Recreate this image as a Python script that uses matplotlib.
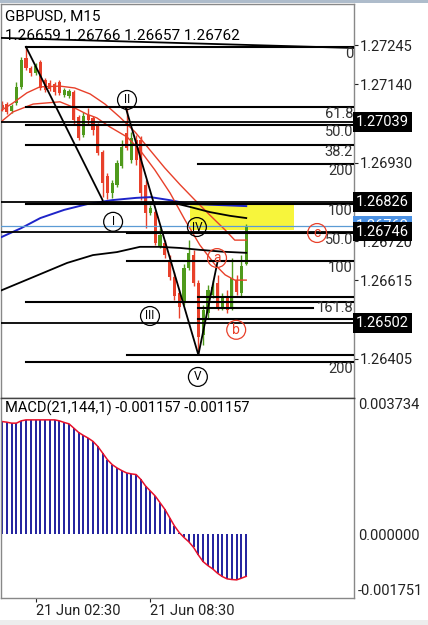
import matplotlib
matplotlib.use("Agg")
import matplotlib.pyplot as plt
import matplotlib.transforms as mtransforms
from matplotlib.patches import Rectangle

plt.rcParams["font.family"] = ["Roboto", "DejaVu Sans"]

# ---- data (GBPUSD M15, 52 bars, index 0 = 21 Jun 00:45) ----
bar_idx = list(range(52))
opens = [1.27085, 1.27087, 1.27068, 1.27090, 1.27133, 1.27210, 1.27183, 1.27170, 1.27200, 1.27151,
         1.27143, 1.27141, 1.27146, 1.27111, 1.27109, 1.27119, 1.27052, 1.27004, 1.27058, 1.27050,
         1.27031, 1.26959, 1.26895, 1.26849, 1.26871, 1.26921, 1.27010, 1.26937, 1.26991, 1.26991,
         1.26871, 1.26796, 1.26798, 1.26707, 1.26715, 1.26670, 1.26624, 1.26582, 1.26557, 1.26648,
         1.26683, 1.26608, 1.26469, 1.26528, 1.26576, 1.26608, 1.26544, 1.26571, 1.26544, 1.26616,
         1.26582, 1.26659]
highs = [1.27095, 1.27093, 1.27087, 1.27146, 1.27213, 1.27240, 1.27189, 1.27197, 1.27205, 1.27157,
         1.27151, 1.27146, 1.27151, 1.27130, 1.27127, 1.27125, 1.27058, 1.27066, 1.27077, 1.27055,
         1.27036, 1.26964, 1.26903, 1.26884, 1.26937, 1.26991, 1.27077, 1.27012, 1.27004, 1.27002,
         1.26884, 1.26817, 1.26804, 1.26755, 1.26723, 1.26683, 1.26638, 1.26590, 1.26659, 1.26723,
         1.26697, 1.26616, 1.26550, 1.26603, 1.26616, 1.26630, 1.26582, 1.26590, 1.26675, 1.26630,
         1.26683, 1.26766]
lows = [1.27068, 1.27060, 1.27063, 1.27085, 1.27127, 1.27178, 1.27162, 1.27165, 1.27125, 1.27119,
        1.27122, 1.27111, 1.27111, 1.27106, 1.27103, 1.27031, 1.26991, 1.26999, 1.27031, 1.27004,
        1.26951, 1.26838, 1.26833, 1.26836, 1.26865, 1.26916, 1.26964, 1.26929, 1.26924, 1.26830,
        1.26755, 1.26790, 1.26710, 1.26702, 1.26675, 1.26616, 1.26563, 1.26515, 1.26550, 1.26643,
        1.26600, 1.26418, 1.26443, 1.26515, 1.26568, 1.26536, 1.26536, 1.26528, 1.26536, 1.26576,
        1.26574, 1.26657]
closes = [1.27077, 1.27066, 1.27082, 1.27133, 1.27205, 1.27183, 1.27170, 1.27189, 1.27130, 1.27125,
          1.27127, 1.27119, 1.27117, 1.27125, 1.27122, 1.27044, 1.26996, 1.27055, 1.27044, 1.27018,
          1.26956, 1.26876, 1.26849, 1.26876, 1.26929, 1.26972, 1.26970, 1.26996, 1.26937, 1.26849,
          1.26796, 1.26809, 1.26715, 1.26737, 1.26683, 1.26624, 1.26574, 1.26544, 1.26648, 1.26689,
          1.26608, 1.26464, 1.26536, 1.26590, 1.26598, 1.26544, 1.26571, 1.26536, 1.26622, 1.26584,
          1.26654, 1.26762]

macd = [0.003089, 0.003071, 0.003044, 0.003044, 0.003107, 0.003134, 0.003134, 0.003134, 0.003134, 0.003134,
        0.003134, 0.003134, 0.003107, 0.003062, 0.003025, 0.002907, 0.002789, 0.002707, 0.002634, 0.002544,
        0.002407, 0.002226, 0.002044, 0.001908, 0.001817, 0.001744, 0.001680, 0.001653, 0.001635, 0.001499,
        0.001317, 0.001181, 0.001045, 0.000863, 0.000681, 0.000454, 0.000227, 0.000045, -0.000091, -0.000209,
        -0.000363, -0.000572, -0.000754, -0.000863, -0.000954, -0.001072, -0.001163, -0.001226, -0.001244,
        -0.001254, -0.001208, -0.001157]

# moving averages, sampled at a few bars
red_up_x = [-1, 2.3, 5.2, 7.9, 12.1, 15.2, 18.4, 21.5, 24.6, 27.8, 30.9, 34.0, 37.2, 40.3, 43.4, 46.6, 48.6, 51]
red_up_y = [1.27063, 1.27090, 1.27117, 1.27133, 1.27135, 1.27130, 1.27114, 1.27087, 1.27052, 1.27012,
            1.26964, 1.26916, 1.26871, 1.26830, 1.26790, 1.26750, 1.26723, 1.26723]
red_lo_x = [-1, 2.3, 6.5, 12.1, 14.8, 17.7, 19.8, 22.5, 26.1, 28.8, 31.9, 35.1, 38.2, 41.3, 44.5, 46.6, 48.6, 51]
red_lo_y = [1.27031, 1.27066, 1.27087, 1.27093, 1.27079, 1.27060, 1.27050, 1.27026, 1.26999, 1.26964,
            1.26911, 1.26849, 1.26777, 1.26710, 1.26657, 1.26630, 1.26616, 1.26616]
blue_x = [-1, 4, 8, 13, 18, 23, 28, 31, 35, 39, 45, 51]
blue_y = [1.26726, 1.26755, 1.26782, 1.26804, 1.26820, 1.26830, 1.26836, 1.26838, 1.26830, 1.26820,
          1.26817, 1.26814]
blk_lo_x = [-1, 6.5, 13.6, 19, 24, 28.8, 33, 37.2, 41.3, 46.1, 51]
blk_lo_y = [1.26584, 1.26624, 1.26662, 1.26683, 1.26691, 1.26705, 1.26705, 1.26702, 1.26697, 1.26692, 1.26689]
blk_hi_x = [20, 36, 39.2, 43.4, 47.6, 51]
blk_hi_y = [1.26822, 1.26822, 1.26812, 1.26798, 1.26788, 1.26782]

# fibonacci / level lines: price, start bar, end bar (None = right edge), label
fib_price = [1.27240, 1.27078, 1.27031, 1.26978, 1.26927, 1.26820, 1.26743, 1.26667,
             1.26571, 1.26558, 1.26541, 1.26512, 1.26416, 1.26397]
fib_start = [5, 5, 5, 5, 41, 5, 26, 26, 41, 5, 41, 41, 26, 5]
fib_end = [None, None, None, None, None, None, None, None, None, None, 65, None, None, None]
fib_label = ["0", "61.8", "50.0", "38.2", "200", "100", "50.0", "100",
             "", "", "161.8", "", "", "200"]
# full-width price lines
level_price = [1.27039, 1.26826, 1.26746, 1.26502]

# elliott wave zigzag (bar, price)
zz1_x, zz1_y = [5, 21], [1.27240, 1.26830]
zz2_x, zz2_y = [25.8, 41, 45], [1.27079, 1.26416, 1.26665]
trend_x, trend_y = [-0.2, 73.5], [1.27264, 1.27237]

wave_lbl = ["II", "I", "IV", "III", "V"]
wave_x = [26.1, 23.2, 40.7, 30.9, 40.9]
wave_y = [1.27098, 1.26772, 1.26758, 1.26520, 1.26357]
abc_lbl = ["a", "b", "c"]
abc_x = [44.9, 48.9, 65.8]
abc_y = [1.26675, 1.26483, 1.26742]

zone_x = [39.2, 61.0]
zone_y = [1.26750, 1.26817]

price_ticks = [1.27245, 1.27140, 1.26930, 1.26720, 1.26615, 1.26405]
box_price = [1.27039, 1.26826, 1.26746, 1.26502]
bid = 1.26762

time_ticks = [7, 31]
time_labels = ["21 Jun 02:30", "21 Jun 08:30"]
macd_ticks = [0.003734, 0.0, -0.001751]

W, H = 428, 625
fig = plt.figure(figsize=(W / 100, H / 100), dpi=100)


def px_axes(l, t, r, b):
    return fig.add_axes([l / W, 1 - b / H, (r - l) / W, (b - t) / H])


RED = "#e8402a"
GREEN = "#4f9a1c"
FS = 10.5

ax = px_axes(1, 4, 354, 398)
ax.set_xlim(-0.21, 73.5)
ax.set_ylim(1.263006, 1.273547)

# yellow zone
ax.add_patch(Rectangle((zone_x[0], zone_y[0]), zone_x[1] - zone_x[0], zone_y[1] - zone_y[0],
                       facecolor="#f7f53c", edgecolor="none", zorder=0))

# candles
for i in bar_idx:
    o, h, l, c = opens[i], highs[i], lows[i], closes[i]
    col = GREEN if c >= o else RED
    ax.vlines(i, l, h, color=col, lw=1, zorder=2)
    ax.add_patch(Rectangle((i - 0.33, min(o, c)), 0.66, max(abs(c - o), 0.00002),
                           facecolor=col, edgecolor="none", zorder=2))

# moving averages
ax.plot(blue_x, blue_y, color="#1e24c8", lw=1.4, zorder=3)
ax.plot(red_up_x, red_up_y, color=RED, lw=1, zorder=3)
ax.plot(red_lo_x, red_lo_y, color=RED, lw=1, zorder=3)
ax.plot(blk_lo_x, blk_lo_y, color="black", lw=1.3, zorder=3)
ax.plot(blk_hi_x, blk_hi_y, color="black", lw=1.3, zorder=3)

# level lines
for p in level_price:
    ax.axhline(p, color="black", lw=1.3, zorder=4)
ax.axhline(bid, color="#5b9bd5", lw=0.9, zorder=4)

for p, s, e, lab in zip(fib_price, fib_start, fib_end, fib_label):
    end = 73.5 if e is None else e
    ax.plot([s, end], [p, p], color="black", lw=1.5, zorder=4)
    if lab:
        ax.text(73.3, p, lab, ha="right", va="top" if e is None else "center",
                fontsize=FS, color="#333333", zorder=5)

# zigzag
ax.plot(zz1_x, zz1_y, color="black", lw=1.3, zorder=4)
ax.plot(zz2_x, zz2_y, color="black", lw=1.3, zorder=4)
ax.plot(trend_x, trend_y, color="black", lw=1.3, zorder=4)

# wave labels
ax.scatter(wave_x, wave_y, s=185, facecolor="none", edgecolor="black", lw=0.9, zorder=6)
for lab, x, y in zip(wave_lbl, wave_x, wave_y):
    ax.text(x, y, lab, ha="center", va="center", fontsize=8.5, color="black", zorder=6)
ax.scatter(abc_x, abc_y, s=185, facecolor="none", edgecolor=RED, lw=0.9, zorder=6)
for lab, x, y in zip(abc_lbl, abc_x, abc_y):
    ax.text(x, y, lab, ha="center", va="center", fontsize=10, color=RED, zorder=6)

# right price axis
ax.yaxis.tick_right()
ax.set_yticks(price_ticks)
ax.set_yticklabels([f"{v:.5f}" for v in price_ticks])
ax.tick_params(axis="y", length=3, pad=1, labelsize=FS, colors="#222222")
ax.set_xticks([])
for sp in ax.spines.values():
    sp.set_color("#888888")
    sp.set_linewidth(1)
ax.spines["bottom"].set_color("#444444")

trans = mtransforms.blended_transform_factory(ax.transAxes, ax.transData)
ax.text(1.006, bid, f"{bid:.5f}", transform=trans, ha="left", va="center", fontsize=FS,
        color="white", bbox=dict(boxstyle="square,pad=0.2", fc="#4a90e2", ec="none"), zorder=7)
for p in box_price:
    ax.text(1.006, p, f"{p:.5f}", transform=trans, ha="left", va="center", fontsize=FS,
            color="white", bbox=dict(boxstyle="square,pad=0.2", fc="black", ec="none"), zorder=8)

fig.text(5 / W, 1 - 16 / H, "GBPUSD, M15", ha="left", va="center", fontsize=11)
fig.text(5 / W, 1 - 36 / H, "1.26659 1.26766 1.26657 1.26762", ha="left", va="center", fontsize=11)

# ---- MACD panel ----
ax2 = px_axes(1, 398, 354, 598)
ax2.set_xlim(-0.21, 73.5)
ax2.set_ylim(-0.001751, 0.003734)
ax2.vlines(bar_idx, 0, macd, color="#1f1f9e", lw=1.4)
ax2.plot(bar_idx, macd, color="#e8102a", lw=1.1)
ax2.yaxis.tick_right()
ax2.set_yticks(macd_ticks)
ax2.set_yticklabels([f"{v:.6f}" for v in macd_ticks])
ax2.tick_params(axis="y", length=0, pad=3, labelsize=FS, colors="#222222")
ylabs = ax2.get_yticklabels()
ylabs[0].set_va("top")
ylabs[2].set_va("bottom")
ax2.set_xticks(time_ticks)
ax2.set_xticklabels(time_labels, ha="left")
ax2.tick_params(axis="x", length=3, pad=1, labelsize=FS, colors="#222222")
for sp in ax2.spines.values():
    sp.set_color("#888888")
    sp.set_linewidth(1)
ax2.spines["top"].set_color("#444444")
ax2.text(0.01, 0.985, "MACD(21,144,1) -0.001157 -0.001157", transform=ax2.transAxes,
         ha="left", va="top", fontsize=FS)

fig.patches.append(Rectangle((0, 0), 1, 5 / H, transform=fig.transFigure,
                             facecolor="#ededed", edgecolor="none"))
fig.patches.append(Rectangle((0, 1 - 3 / H), 1, 3 / H, transform=fig.transFigure,
                             facecolor="#aebccb", edgecolor="none"))

fig.savefig("out.png", dpi=100)
